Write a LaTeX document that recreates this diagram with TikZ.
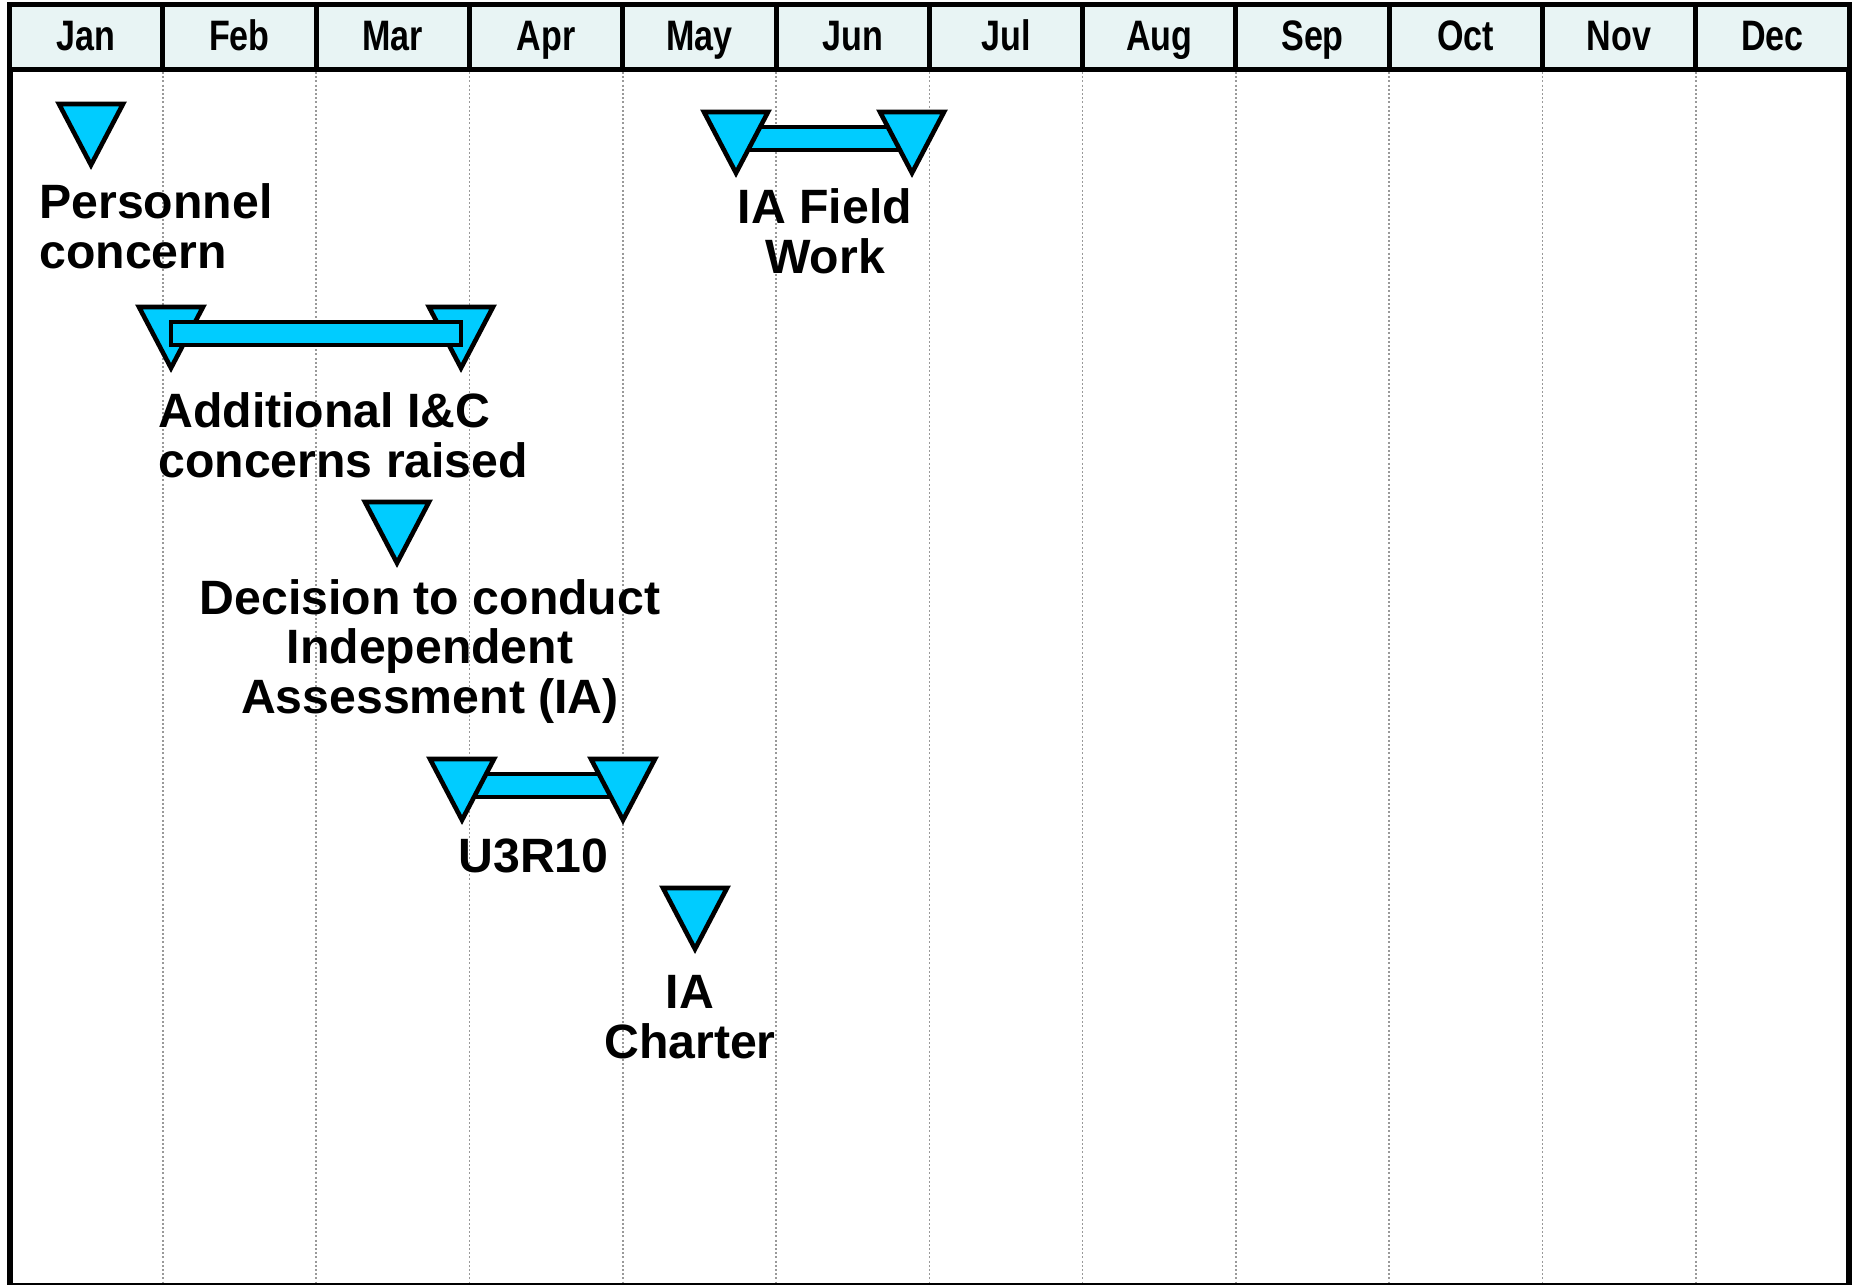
\documentclass[tikz,border=0pt]{standalone}
\usepackage{fontspec}
\setmainfont{Liberation Sans}
\newfontfamily\narrowfam[FakeStretch=0.8]{Liberation Sans}
\usepackage{tikz}
\usetikzlibrary{calc}

\definecolor{headfill}{RGB}{232,244,244}
\definecolor{mscyan}{RGB}{0,204,255}

\begin{document}
\begin{tikzpicture}[
  x=0.5pt, y=-0.5pt,
  font=\fontsize{24.1}{24.6}\selectfont\bfseries,
  monthcell/.style={draw=black, line width=2.5pt, fill=headfill},
  monthname/.style={font=\narrowfam\fontsize{21.3}{22}\selectfont\bfseries, anchor=base, inner sep=0pt},
  gridline/.style={draw=black!40, line width=0.8pt, dash pattern=on 1pt off 1.1pt},
  frameline/.style={draw=black, line width=3pt},
  mstone/.style={draw=black, line width=2.3pt, fill=mscyan, line join=miter},
  span/.style={draw=black, line width=2.3pt, fill=mscyan},
  evtext/.style={inner sep=0pt, anchor=base}
]
\useasboundingbox (0,0) rectangle (1853,1285);

% month grid
\foreach \m [count=\i from 0] in {Jan,Feb,Mar,Apr,May,Jun,Jul,Aug,Sep,Oct,Nov,Dec} {
  \draw[monthcell] (9.5+153.3*\i,4.5) rectangle (9.5+153.3*\i+153.3,69.5);
  \node[monthname] (mon\i) at (9.5+153.3*\i+76.65,50) {\m};
}
\foreach \i in {1,...,11}
  \draw[gridline] (9.5+153.3*\i,72) -- (9.5+153.3*\i,1283);
\draw[frameline] (9.5,69.5) -- (9.5,1285);
\draw[frameline] (1849,69.5) -- (1849,1285);
\draw[line width=0.7pt] (9.5,1284) -- (1849,1284);

% milestone tips
\coordinate (pers) at (91,165);
\coordinate (fwa) at (736,173);
\coordinate (fwb) at (912,173);
\coordinate (ica) at (171,368);
\coordinate (icb) at (461,368);
\coordinate (dec) at (397,563);
\coordinate (u3a) at (462,820);
\coordinate (u3b) at (623,820);
\coordinate (chart) at (695,949);

% bars behind
\draw[span] ($(fwa)+(0,-46)$) rectangle ($(fwb)+(0,-23)$);
\draw[span] ($(u3a)+(0,-46)$) rectangle ($(u3b)+(0,-23)$);

% triangles
\foreach \t in {pers,fwa,fwb,ica,icb,dec,u3a,u3b,chart}
  \draw[mstone] (\t) -- ++(-32,-61) -- ++(64,0) -- cycle;

% bar on top
\draw[span] ($(ica)+(0,-46)$) rectangle ($(icb)+(0,-23)$);

% texts (anchored on last line)
\node[evtext, anchor=base west, align=left] (perstxt) at (39,268) {Personnel\\concern};
\node[evtext, align=center] (fwtxt) at (825,273) {IA Field\\Work};
\node[evtext, anchor=base west, align=left] (ictxt) at (158,477) {Additional I\&C\\concerns raised};
\node[evtext, align=center] (dectxt) at (430,713) {Decision to conduct\\Independent\\Assessment (IA)};
\node[evtext] (u3txt) at (533.5,872) {U3R10};
\node[evtext, align=center] (charttxt) at (690,1058) {IA\\Charter};
\end{tikzpicture}
\end{document}
